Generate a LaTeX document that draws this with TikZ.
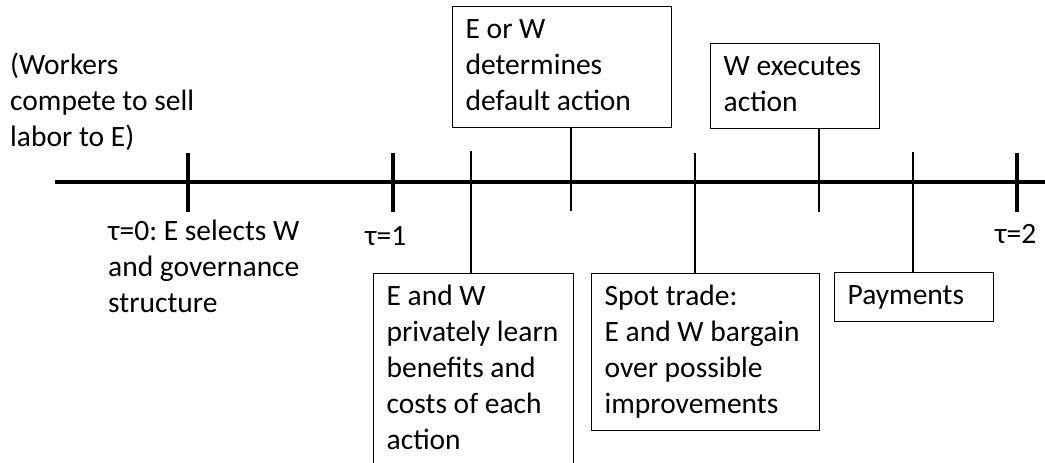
\documentclass[tikz,border=0pt]{standalone}
\usepackage{fontspec}
\setmainfont{Carlito}
\usepackage{tikz}
\frenchspacing
\def\txtsize{\fontsize{29.5}{36}\selectfont}
\def\boxline{1.3pt}
\def\axisline{4pt}
\def\tickline{2pt}

\begin{document}
\begin{tikzpicture}[x=1pt, y=-1pt,
    every node/.style={font=\txtsize, align=flush left, inner sep=0pt},
    timelabel/.style={anchor=north west, execute at begin node=\strut},
    eventbox/.style={draw, line width=\boxline, anchor=north west,
        inner xsep=13pt, inner ysep=6.5pt,
        execute at begin node=\strut, execute at end node=\strut},
    bigtick/.style={line width=\axisline},
    smalltick/.style={line width=\tickline}]

                 \useasboundingbox (0,0) rectangle (1045,463);

                 \coordinate (axl) at (55,182);
                 \coordinate (axr) at (1045,182);

                 \coordinate (tau0) at (188,182);
                 \coordinate (tau1) at (393,182);
                 \coordinate (tau2) at (1017,182);

                 \coordinate (learnpt) at (471,182);
                 \coordinate (defpt) at (571,182);
                 \coordinate (spotpt) at (695,182);
                 \coordinate (execpt) at (819,182);
                 \coordinate (paypt) at (913,182);

                 \node[timelabel] (workers) at (10,53) {(Workers\\compete to sell\\labor to E)};
                 \node[timelabel] (tau0lbl) at (108,220) {τ=0: E selects W\\and governance\\structure};
                 \node[timelabel] (tau1lbl) at (365,220) {τ=1};
                 \node[timelabel] (tau2lbl) at (995,218) {τ=2};

                 \node[eventbox, text width=193pt] (deflt) at (452,6) {E or W\\determines\\default action};
                 \node[eventbox, text width=143pt] (exec) at (710,43) {W executes\\action};
                 \node[eventbox, text width=174pt] (learn) at (373,273) {E and W\\privately learn\\benefits and\\costs of each\\action};
                 \node[eventbox, text width=202pt] (spot) at (591,273) {Spot trade:\\E and W bargain\\over possible\\improvements};
                 \node[eventbox, text width=133pt] (pay) at (834,272) {Payments};

                 \draw[bigtick] (axl) -- (axr);

                 \foreach \t in {tau0, tau1, tau2}
                     \draw[bigtick] ([yshift=29pt]\t) -- ([yshift=-30pt]\t);

                 \draw[smalltick] ([yshift=31pt]learnpt) -- (learnpt |- learn.north);
                 \draw[smalltick] (defpt |- deflt.south) -- ([yshift=-29pt]defpt);
                 \draw[smalltick] ([yshift=29pt]spotpt) -- (spotpt |- spot.north);
                 \draw[smalltick] (execpt |- exec.south) -- ([yshift=-30pt]execpt);
                 \draw[smalltick] ([yshift=30pt]paypt) -- (paypt |- pay.north);

             \end{tikzpicture}
\end{document}
